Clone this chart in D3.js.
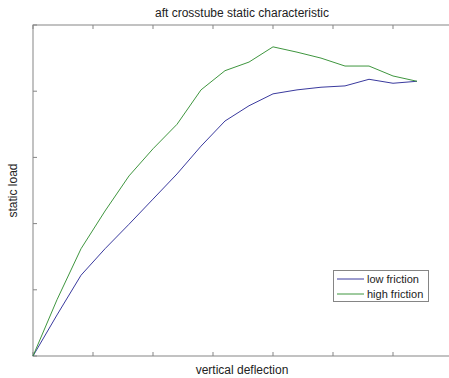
<!DOCTYPE html>
<html><head><meta charset="utf-8">
<script src="https://cdn.jsdelivr.net/npm/d3@7"></script>
<style>body{margin:0;background:#fff;} svg{display:block;font-family:"Liberation Sans",Arial,sans-serif;}</style>
</head><body>
<svg id="c" width="449" height="378"></svg>
<script>
const deflection = [0,0.4,0.8,1.2,1.6,2.0,2.4,2.8,3.2,3.6,4.0,4.4,4.8,5.2,5.6,6.0,6.4];
const lowFriction = [0,0.62,1.22,1.62,1.99,2.37,2.75,3.17,3.55,3.78,3.96,4.02,4.06,4.08,4.18,4.12,4.15];
const highFriction = [0,0.85,1.62,2.19,2.72,3.13,3.50,4.02,4.31,4.44,4.67,4.59,4.50,4.38,4.38,4.23,4.15];
const xTicks = [0,1,2,3,4,5,6,7];
const yTicks = [0,1,2,3,4,5];
const seriesNames = ["low friction","high friction"];
const seriesColors = ["#3a3a9e","#3f963f"];

const svg = d3.select("#c");
const L=33, R=453, T=25, B=356;
const x = d3.scaleLinear().domain([0,7]).range([L,R]);
const y = d3.scaleLinear().domain([0,5]).range([B,T]);
const axisColor = "#858585";

svg.append("rect").attr("x",L).attr("y",T).attr("width",R-L).attr("height",B-T)
  .attr("fill","#fff").attr("stroke",axisColor).attr("stroke-width",1);

const g = svg.append("g");
// ticks inward on all sides
xTicks.forEach(t=>{
  g.append("line").attr("x1",x(t)).attr("x2",x(t)).attr("y1",B).attr("y2",B-4).attr("stroke",axisColor);
  g.append("line").attr("x1",x(t)).attr("x2",x(t)).attr("y1",T).attr("y2",T+4).attr("stroke",axisColor);
});
yTicks.forEach(t=>{
  g.append("line").attr("x1",L).attr("x2",L+4).attr("y1",y(t)).attr("y2",y(t)).attr("stroke",axisColor);
  g.append("line").attr("x1",R).attr("x2",R-4).attr("y1",y(t)).attr("y2",y(t)).attr("stroke",axisColor);
});

const line = d3.line().x((d,i)=>x(deflection[i])).y(d=>y(d));
[lowFriction, highFriction].forEach((s,k)=>{
  svg.append("path").datum(s).attr("d",line).attr("fill","none")
    .attr("stroke",seriesColors[k]).attr("stroke-width",1);
});

svg.append("text").attr("x",242).attr("y",17).attr("text-anchor","middle")
  .attr("font-size",12).attr("fill","#222").text("aft crosstube static characteristic");
svg.append("text").attr("x",242).attr("y",374).attr("text-anchor","middle")
  .attr("font-size",12).attr("fill","#222").text("vertical deflection");
svg.append("text").attr("transform","translate(17,190.5) rotate(-90)").attr("text-anchor","middle")
  .attr("font-size",12).attr("fill","#222").text("static load");

// legend
const lg = svg.append("g");
lg.append("rect").attr("x",333.5).attr("y",270.5).attr("width",95).attr("height",31)
  .attr("fill","#fff").attr("stroke",axisColor);
seriesNames.forEach((n,i)=>{
  const yy = 279 + i*15;
  lg.append("line").attr("x1",337).attr("x2",364).attr("y1",yy).attr("y2",yy)
    .attr("stroke",seriesColors[i]).attr("stroke-width",1);
  lg.append("text").attr("x",367).attr("y",yy+4).attr("font-size",11).attr("fill","#222").text(n);
});
</script>
</body></html>
